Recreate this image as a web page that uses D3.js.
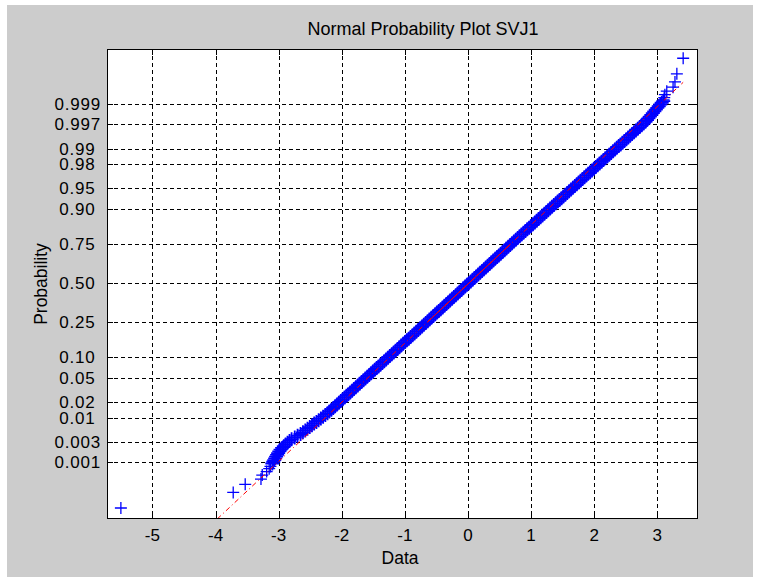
<!DOCTYPE html>
<html>
<head>
<meta charset="utf-8">
<script src="https://cdnjs.cloudflare.com/ajax/libs/d3/7.8.5/d3.min.js"></script>
<style>
  body { margin: 0; background: #ffffff; }
  text { font-family: "Liberation Sans", Arial, sans-serif; fill: #000; }
</style>
</head>
<body>
<div class="chart"></div>
<script>
// Probability ticks on the y axis (labels padded like MATLAB's char matrix)
const probTicks = [0.001, 0.003, 0.01, 0.02, 0.05, 0.10, 0.25, 0.50, 0.75, 0.90, 0.95, 0.98, 0.99, 0.997, 0.999];
const probLabels = ['0.001', '0.003', '0.01 ', '0.02 ', '0.05 ', '0.10 ', '0.25 ', '0.50 ', '0.75 ', '0.90 ', '0.95 ', '0.98 ', '0.99 ', '0.997', '0.999'];
const dataTicks = [-5, -4, -3, -2, -1, 0, 1, 2, 3];

// Extreme order statistics (normal quantile of plotting position, data value)
const lowTailZ = [-3.89, -3.62, -3.48, -3.39, -3.32, -3.26, -3.21, -3.17];
const lowTailX = [-5.50, -3.72, -3.53, -3.28, -3.26, -3.19, -3.15, -3.13];
const highTailZ = [3.17, 3.21, 3.26, 3.32, 3.39, 3.48, 3.62, 3.89];
const highTailX = [3.10, 3.11, 3.12, 3.15, 3.25, 3.28, 3.31, 3.41];

// Dense part of the sample, read every 0.03 in normal quantile from -3.12
const bandStartZ = -3.12;
const bandStepZ = 0.03;
const bandX = [
  -3.100, -3.085, -3.070, -3.055, -3.040, -3.024, -3.008, -2.990, -2.970, -2.945,
  -2.918, -2.890, -2.860, -2.828, -2.795, -2.745, -2.700, -2.653, -2.615, -2.578,
  -2.543, -2.507, -2.472, -2.437, -2.401, -2.366, -2.331, -2.295, -2.260, -2.225,
  -2.195, -2.165, -2.135, -2.105, -2.075, -2.045, -2.015, -1.985, -1.955, -1.925,
  -1.896, -1.866, -1.836, -1.806, -1.776, -1.746, -1.716, -1.686, -1.656, -1.626,
  -1.596, -1.566, -1.536, -1.507, -1.477, -1.447, -1.417, -1.387, -1.357, -1.327,
  -1.297, -1.267, -1.237, -1.207, -1.177, -1.147, -1.117, -1.088, -1.058, -1.028,
  -0.998, -0.968, -0.938, -0.908, -0.878, -0.848, -0.818, -0.788, -0.758, -0.728,
  -0.699, -0.669, -0.639, -0.610, -0.580, -0.550, -0.520, -0.491, -0.461, -0.431,
  -0.401, -0.372, -0.342, -0.312, -0.283, -0.253, -0.223, -0.193, -0.164, -0.134,
  -0.104, -0.075, -0.045, -0.015, 0.015, 0.044, 0.074, 0.104, 0.134, 0.163,
  0.193, 0.223, 0.253, 0.282, 0.312, 0.342, 0.371, 0.401, 0.431, 0.461,
  0.490, 0.520, 0.550, 0.580, 0.609, 0.639, 0.669, 0.698, 0.728, 0.758,
  0.788, 0.818, 0.848, 0.879, 0.909, 0.939, 0.969, 0.999, 1.030, 1.060,
  1.090, 1.120, 1.150, 1.180, 1.211, 1.241, 1.271, 1.301, 1.331, 1.361,
  1.392, 1.422, 1.452, 1.482, 1.512, 1.543, 1.573, 1.603, 1.633, 1.663,
  1.694, 1.724, 1.754, 1.784, 1.814, 1.844, 1.875, 1.905, 1.935, 1.965,
  1.996, 2.026, 2.056, 2.086, 2.117, 2.147, 2.177, 2.207, 2.238, 2.268,
  2.298, 2.328, 2.358, 2.389, 2.419, 2.449, 2.479, 2.510, 2.540, 2.570,
  2.600, 2.631, 2.661, 2.691, 2.721, 2.752, 2.782, 2.812, 2.836, 2.859,
  2.882, 2.906, 2.929, 2.953, 2.976, 3.000, 3.023, 3.047, 3.070, 3.094
];

// Reference line through the quartiles (z = intercept + slope * x)
const refIntercept = -0.015;
const refSlope = 1.023;

document.addEventListener('DOMContentLoaded', function() {
  const width = 759;
  const height = 577;
  const plot = {left: 107, top: 49, right: 698, bottom: 519};

  // inverse normal CDF (Acklam)
  function norminv(p) {
    const a = [-3.969683028665376e+01, 2.209460984245205e+02, -2.759285104469687e+02, 1.383577518672690e+02, -3.066479806614716e+01, 2.506628277459239e+00];
    const b = [-5.447609879822406e+01, 1.615858368580409e+02, -1.556989798598866e+02, 6.680131188771972e+01, -1.328068155288572e+01];
    const c = [-7.784894002430293e-03, -3.223964580411365e-01, -2.400758277161838e+00, -2.549671010029583e+00, 4.374664141464968e+00, 2.938163982698783e+00];
    const d = [7.784695709041462e-03, 3.224671290700398e-01, 2.445134137142996e+00, 3.754408661907416e+00];
    const plow = 0.02425;
    if (p < plow) {
      const q = Math.sqrt(-2 * Math.log(p));
      return (((((c[0]*q+c[1])*q+c[2])*q+c[3])*q+c[4])*q+c[5]) / ((((d[0]*q+d[1])*q+d[2])*q+d[3])*q+1);
    } else if (p <= 1 - plow) {
      const q = p - 0.5, r = q * q;
      return (((((a[0]*r+a[1])*r+a[2])*r+a[3])*r+a[4])*r+a[5])*q / (((((b[0]*r+b[1])*r+b[2])*r+b[3])*r+b[4])*r+1);
    }
    const q = Math.sqrt(-2 * Math.log(1 - p));
    return -(((((c[0]*q+c[1])*q+c[2])*q+c[3])*q+c[4])*q+c[5]) / ((((d[0]*q+d[1])*q+d[2])*q+d[3])*q+1);
  }

  const svg = d3.select('.chart')
      .append('svg')
      .attr('width', width)
      .attr('height', height);

  // figure background
  svg.append('rect')
      .attr('x', 7).attr('y', 5)
      .attr('width', 746).attr('height', 572)
      .attr('fill', '#cccccc');

  const xScale = d3.scaleLinear()
      .domain([-5.72, 3.645])
      .range([plot.left, plot.right]);
  const yScale = d3.scaleLinear()
      .domain([-4.08, 4.05])
      .range([plot.bottom, plot.top]);

  const px = v => Math.round(v) + 0.5;

  svg.append('rect')
      .attr('x', plot.left).attr('y', plot.top)
      .attr('width', plot.right - plot.left).attr('height', plot.bottom - plot.top)
      .attr('fill', '#ffffff');

  // grid
  const grid = svg.append('g')
      .attr('stroke', '#000')
      .attr('stroke-width', 1)
      .attr('stroke-dasharray', '4,3')
      .attr('shape-rendering', 'crispEdges');
  grid.selectAll('.vgrid')
      .data(dataTicks)
      .enter().append('line')
      .attr('x1', d => px(xScale(d))).attr('x2', d => px(xScale(d)))
      .attr('y1', plot.top).attr('y2', plot.bottom);
  grid.selectAll('.hgrid')
      .data(probTicks)
      .enter().append('line')
      .attr('y1', d => px(yScale(norminv(d)))).attr('y2', d => px(yScale(norminv(d))))
      .attr('x1', plot.left).attr('x2', plot.right);

  // data markers
  const points = [];
  lowTailZ.forEach((z, i) => points.push({x: lowTailX[i], z: z, r: 6, w: 1.3}));
  bandX.forEach((x, i) => points.push({x: x, z: bandStartZ + i * bandStepZ, r: 7, w: 1.8}));
  highTailZ.forEach((z, i) => points.push({x: highTailX[i], z: z, r: 6, w: 1.3}));

  const clip = svg.append('defs').append('clipPath').attr('id', 'plotclip');
  clip.append('rect')
      .attr('x', plot.left).attr('y', plot.top)
      .attr('width', plot.right - plot.left).attr('height', plot.bottom - plot.top);

  svg.append('g')
      .selectAll('.marker')
      .data(points)
      .enter().append('path')
      .attr('class', 'marker')
      .attr('transform', d => `translate(${xScale(d.x)},${yScale(d.z)})`)
      .attr('d', d => `M${-d.r},0H${d.r}M0,${-d.r}V${d.r}`)
      .attr('fill', 'none')
      .attr('stroke', '#0000ff')
      .attr('stroke-width', d => d.w);

  // reference line: dash-dot over data range, solid between quartiles
  const xMin = d3.min(points, d => d.x);
  const xMax = d3.max(points, d => d.x);
  const refZ = x => refIntercept + refSlope * x;
  const refG = svg.append('g').attr('clip-path', 'url(#plotclip)');
  refG.append('line')
      .attr('x1', xScale(xMin)).attr('y1', yScale(refZ(xMin)))
      .attr('x2', xScale(xMax)).attr('y2', yScale(refZ(xMax)))
      .attr('stroke', '#ff0000')
      .attr('stroke-width', 1)
      .attr('stroke-dasharray', '5,3,1,3');
  const q1 = (norminv(0.25) - refIntercept) / refSlope;
  const q3 = (norminv(0.75) - refIntercept) / refSlope;
  refG.append('line')
      .attr('x1', xScale(q1)).attr('y1', yScale(refZ(q1)))
      .attr('x2', xScale(q3)).attr('y2', yScale(refZ(q3)))
      .attr('stroke', '#ff0000')
      .attr('stroke-width', 1);

  // axes box and ticks on all four sides
  const frame = svg.append('g')
      .attr('stroke', '#000')
      .attr('stroke-width', 1)
      .attr('shape-rendering', 'crispEdges');
  frame.append('rect')
      .attr('x', plot.left + 0.5).attr('y', plot.top + 0.5)
      .attr('width', plot.right - plot.left - 1).attr('height', plot.bottom - plot.top - 1)
      .attr('fill', 'none');
  const tickLen = 6;
  dataTicks.forEach(t => {
    const x = px(xScale(t));
    frame.append('line').attr('x1', x).attr('x2', x).attr('y1', plot.bottom).attr('y2', plot.bottom - tickLen);
    frame.append('line').attr('x1', x).attr('x2', x).attr('y1', plot.top).attr('y2', plot.top + tickLen);
  });
  probTicks.forEach(p => {
    const y = px(yScale(norminv(p)));
    frame.append('line').attr('y1', y).attr('y2', y).attr('x1', plot.left).attr('x2', plot.left + tickLen);
    frame.append('line').attr('y1', y).attr('y2', y).attr('x1', plot.right).attr('x2', plot.right - tickLen);
  });

  // tick labels
  svg.append('g')
      .selectAll('.xlabel')
      .data(dataTicks)
      .enter().append('text')
      .attr('x', d => xScale(d))
      .attr('y', 541)
      .attr('text-anchor', 'middle')
      .attr('font-size', '17px')
      .text(d => d);
  svg.append('g')
      .selectAll('.ylabel')
      .data(probTicks)
      .enter().append('text')
      .attr('x', 101)
      .attr('y', d => yScale(norminv(d)) + 6)
      .attr('text-anchor', 'end')
      .attr('font-size', '17px')
      .attr('letter-spacing', '0.8px')
      .style('white-space', 'pre')
      .text((d, i) => probLabels[i]);

  // titles
  svg.append('text')
      .attr('x', 423)
      .attr('y', 35)
      .attr('text-anchor', 'middle')
      .attr('font-size', '18px')
      .text('Normal Probability Plot SVJ1');
  svg.append('text')
      .attr('x', 400)
      .attr('y', 564)
      .attr('text-anchor', 'middle')
      .attr('font-size', '17.5px')
      .text('Data');
  svg.append('text')
      .attr('transform', 'translate(47,284) rotate(-90)')
      .attr('text-anchor', 'middle')
      .attr('font-size', '17.5px')
      .text('Probability');
});
</script>
</body>
</html>
